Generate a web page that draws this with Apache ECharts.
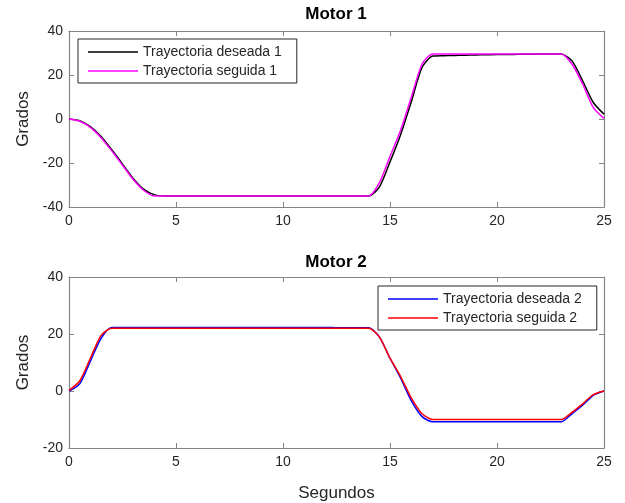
<!DOCTYPE html>
<html>
<head>
<meta charset="utf-8">
<script src="https://cdn.jsdelivr.net/npm/echarts@6/dist/echarts.min.js"></script>
<style>
html,body{margin:0;padding:0;background:#fff;}
#c{width:625px;height:503px;}
</style>
</head>
<body>
<div id="c"></div>
<script>
const titles = ['Motor 1', 'Motor 2'];
const xTicks = [0, 5, 10, 15, 20, 25];
const t = [0,0.5,1,1.5,2,2.5,3,3.5,4,4.5,5,5.5,6,6.5,7,7.5,8,8.5,9,9.5,10,10.5,11,11.5,12,12.5,13,13.5,14,14.5,15,15.5,16,16.5,17,17.5,18,18.5,19,19.5,20,20.5,21,21.5,22,22.5,23,23.5,24,24.5,25];
const m1Deseada = [0,-0.8,-3.5,-8,-14,-20.5,-27,-32,-34.5,-35,-35,-35,-35,-35,-35,-35,-35,-35,-35,-35,-35,-35,-35,-35,-35,-35,-35,-35,-35,-31,-19.5,-7,8,23.5,28.6,28.8,28.9,29,29.1,29.2,29.3,29.3,29.4,29.4,29.5,29.5,29.5,26.5,17.4,7.5,2.2];
const m1Seguida = [0,-1,-3.8,-8.5,-14.5,-21,-27.5,-32.5,-35,-35,-35,-35,-35,-35,-35,-35,-35,-35,-35,-35,-35,-35,-35,-35,-35,-35,-35,-35,-35,-29,-17,-5,10,25,29.6,29.6,29.6,29.6,29.6,29.6,29.6,29.6,29.6,29.6,29.6,29.6,29.6,25,15.9,5.2,0.3];
const m2Deseada = [0,2.5,10.5,18.5,22.3,22.3,22.3,22.3,22.3,22.3,22.3,22.3,22.3,22.3,22.3,22.3,22.3,22.3,22.3,22.3,22.3,22.3,22.3,22.3,22.3,22.2,22.2,22.2,22.2,19,11.5,4.5,-3.5,-9,-10.8,-10.8,-10.8,-10.8,-10.8,-10.8,-10.8,-10.8,-10.8,-10.8,-10.8,-10.8,-10.8,-8,-5,-1.5,0];
const m2Seguida = [0.2,3.5,11.5,19.5,22,22,22,22,22,22,22,22,22,22,22,22,22,22,22,22,22,22,22,22,22,22,22,22,22,19,11.5,5,-2.5,-8,-10,-10,-10,-10,-10,-10,-10,-10,-10,-10,-10,-10,-10,-7.5,-4.5,-1.3,0];
const names = ['Trayectoria deseada 1','Trayectoria seguida 1','Trayectoria deseada 2','Trayectoria seguida 2'];

const pairs = arr => t.map((x, i) => [x, arr[i]]);
const font = 'Liberation Sans, Arial, sans-serif';
const axCol = '#858585';
const txtCol = '#262626';

function xAx(gi, pos, showLabel, name) {
  return {
    type: 'value', gridIndex: gi, position: pos, min: 0, max: 25, interval: 5,
    axisLine: {show: true, onZero: false, lineStyle: {color: axCol, width: 1.2}},
    axisTick: {show: true, inside: true, length: 5, lineStyle: {color: axCol}},
    axisLabel: {show: showLabel, color: txtCol, fontSize: 14, fontFamily: font, margin: 7},
    splitLine: {show: false},
    name: name || '', nameLocation: 'middle', nameGap: 37,
    nameTextStyle: {color: txtCol, fontSize: 17, fontFamily: font}
  };
}
function yAx(gi, pos, showLabel, min, max) {
  return {
    type: 'value', gridIndex: gi, position: pos, min: min, max: max, interval: 20,
    axisLine: {show: true, onZero: false, lineStyle: {color: axCol, width: 1.2}},
    axisTick: {show: true, inside: true, length: 5, lineStyle: {color: axCol}},
    axisLabel: {show: showLabel, color: txtCol, fontSize: 14, fontFamily: font, margin: 6},
    splitLine: {show: false},
    name: showLabel ? 'Grados' : '', nameLocation: 'middle', nameGap: 34, nameRotate: 90,
    nameTextStyle: {color: txtCol, fontSize: 17, fontFamily: font}
  };
}
function ser(name, arr, color, xi, yi) {
  return {
    type: 'line', name: name, data: pairs(arr), xAxisIndex: xi, yAxisIndex: yi,
    symbol: 'none', smooth: 0.25, lineStyle: {color: color, width: 1.5}, itemStyle: {color: color},
    animation: false
  };
}
function legend(items, left, top) {
  return {
    data: items, orient: 'vertical', left: left, top: top,
    icon: 'rect', itemWidth: 50, itemHeight: 1.5, itemGap: 5,
    borderColor: txtCol, borderWidth: 1, padding: [6, 15, 5, 10], backgroundColor: '#fff',
    textStyle: {color: txtCol, fontSize: 14, fontFamily: font, padding: [0, 0, 0, 0]},
    selectedMode: false
  };
}

const chart = echarts.init(document.getElementById('c'), null, {renderer: 'canvas'});
chart.setOption({
  animation: false,
  backgroundColor: '#fff',
  title: [
    {text: titles[0], left: 336, top: 6, textAlign: 'center', padding: 0, textStyle: {fontSize: 17, fontWeight: 'bold', color: '#000', fontFamily: font}},
    {text: titles[1], left: 336, top: 254, textAlign: 'center', padding: 0, textStyle: {fontSize: 17, fontWeight: 'bold', color: '#000', fontFamily: font}}
  ],
  grid: [
    {left: 69, right: 21, top: 31, height: 176},
    {left: 69, right: 21, top: 277, height: 171}
  ],
  xAxis: [xAx(0, 'bottom', true), xAx(0, 'top', false), xAx(1, 'bottom', true, 'Segundos'), xAx(1, 'top', false)],
  yAxis: [yAx(0, 'left', true, -40, 40), yAx(0, 'right', false, -40, 40), yAx(1, 'left', true, -20, 40), yAx(1, 'right', false, -20, 40)],
  legend: [legend([names[0], names[1]], 78, 39), legend([names[2], names[3]], 378, 286)],
  series: [
    ser(names[0], m1Deseada, '#000000', 0, 0),
    ser(names[1], m1Seguida, '#ff00ff', 0, 0),
    ser(names[2], m2Deseada, '#0000ff', 2, 2),
    ser(names[3], m2Seguida, '#ff0000', 2, 2)
  ]
});
</script>
</body>
</html>
